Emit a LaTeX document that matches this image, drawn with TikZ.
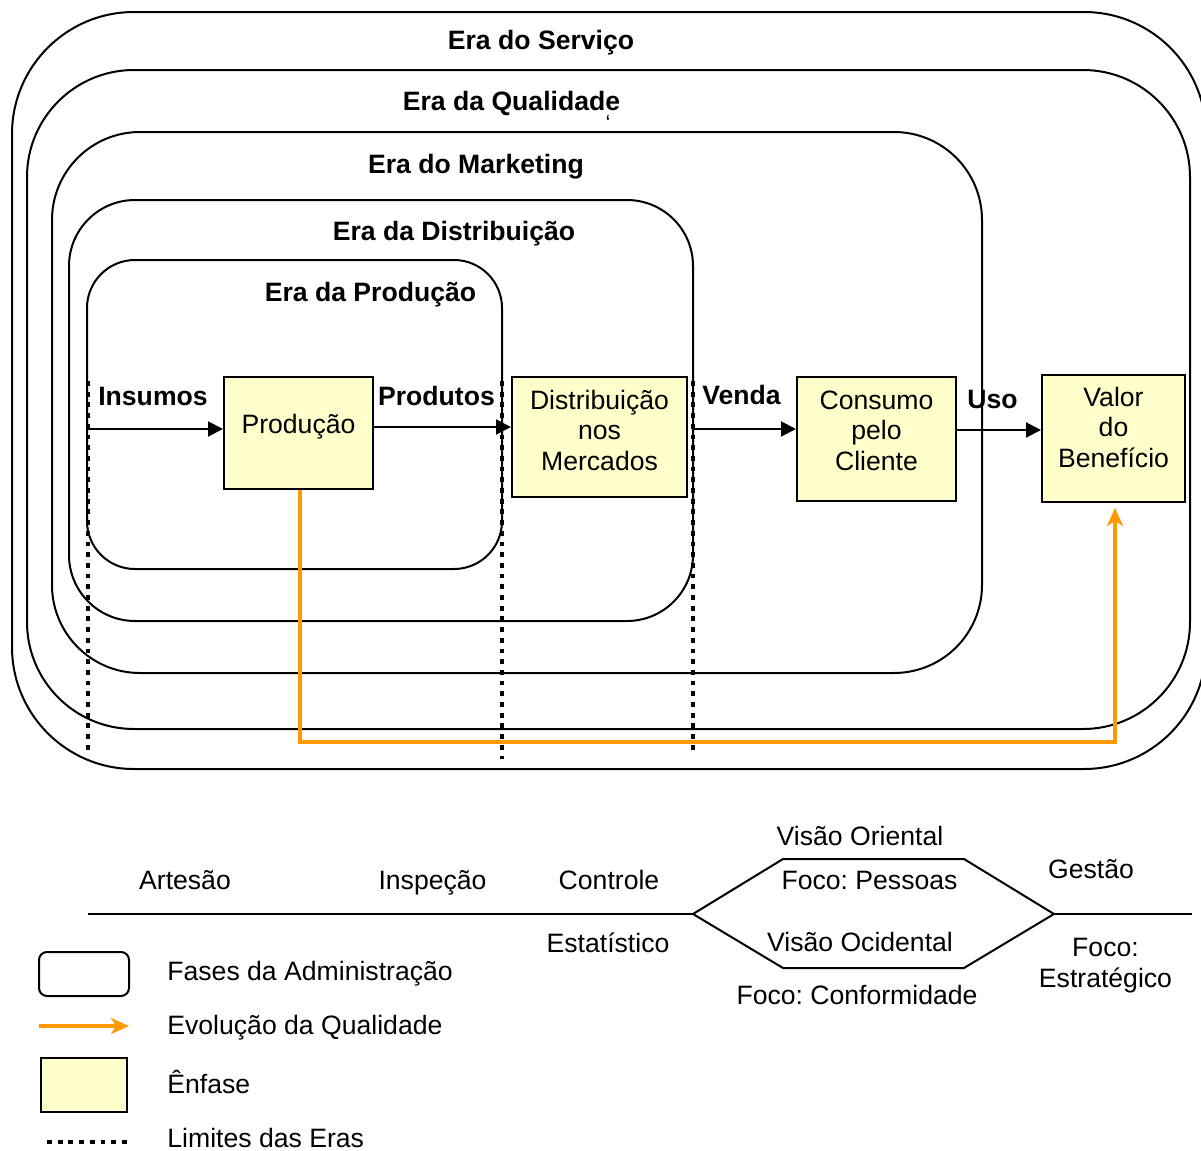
\documentclass[tikz,border=0pt]{standalone}
\usepackage{fontspec}
\setmainfont{Liberation Sans}
\usetikzlibrary{arrows.meta}
\definecolor{qualorange}{HTML}{FF9900}
\definecolor{enfase}{HTML}{FFFFCC}
\frenchspacing

\begin{document}
\begin{tikzpicture}[x=0.5pt,y=-0.5pt,
  txt/.style={font=\fontsize{13.3}{15.25}\selectfont, inner sep=0pt, anchor=base, align=center},
  bold/.style={txt, font=\fontsize{13.3}{15.25}\selectfont\bfseries},
  legtxt/.style={txt, anchor=base west},
  era/.style={draw=black, line width=1pt},
  enf/.style={draw=black, line width=1pt, fill=enfase, inner sep=0pt},
  flow/.style={draw=black, line width=1pt, -{Triangle[length=7.5pt,width=7.5pt]}},
  qual/.style={draw=qualorange, line width=2pt, -{Stealth[length=9pt,width=8pt,inset=2.5pt]}},
  limite/.style={draw=black, line width=2.4pt, dash pattern=on 2.4pt off 2.95pt},
  eixo/.style={draw=black, line width=1pt},
]
\useasboundingbox (0,0) rectangle (1201,1151);

% nested eras of administration
\draw[era, rounded corners=61pt]   (12,12)  rectangle (1206,769);
\draw[era, rounded corners=53.5pt] (27,70)  rectangle (1190,729);
\draw[era, rounded corners=44pt]   (52,132) rectangle (982,673);
\draw[era, rounded corners=33pt]   (69,200) rectangle (693,621);
\draw[era, rounded corners=24pt]   (87,260) rectangle (502,569);

\node[bold] (tServ) at (541,49)   {Era do Serviço};
\node[bold] (tQual) at (511.5,110) {Era da Qualidade};
\node[txt, anchor=north, font=\fontsize{11}{11}\selectfont] (tMark) at (608,115) {‘};
\node[bold] (tMkt)  at (476,173)  {Era do Marketing};
\node[bold] (tDist) at (454,240)  {Era da Distribuição};
\node[bold] (tProd) at (370.5,301) {Era da Produção};

% emphasis boxes
\node[enf, minimum width=74.5pt, minimum height=56pt]   (prod)  at (298.5,433)  {};
\node[enf, minimum width=87.5pt, minimum height=60pt]   (dist)  at (599.5,437)  {};
\node[enf, minimum width=79.5pt, minimum height=62pt]   (cons)  at (876.5,439)  {};
\node[enf, minimum width=71.5pt, minimum height=63.5pt] (valor) at (1113.5,438.5) {};

% box texts (multi-line nodes sit on the baseline of their last line)
\node[txt] (prodT)  at (298.5,433)  {Produção};
\node[txt] (distT)  at (599.5,470)  {Distribuição\\nos\\Mercados};
\node[txt] (consT)  at (876.5,470)  {Consumo\\pelo\\Cliente};
\node[txt] (valorT) at (1113.5,467) {Valor\\do\\Benefício};

% flow labels
\node[bold] (lIns)   at (153,405)   {Insumos};
\node[bold] (lProd)  at (436.5,405) {Produtos};
\node[bold] (lVenda) at (741.5,404) {Venda};
\node[bold] (lUso)   at (992.5,408) {Uso};

% flow arrows
\coordinate (insA)   at (88,429);
\coordinate (prodA)  at (373,427);
\coordinate (vendaA) at (693,429);
\coordinate (usoA)   at (956,430);
\draw[flow] (insA) -- (insA -| prod.west);
\draw[flow] (prod.east |- prodA) -- (dist.west |- prodA);
\draw[flow] (vendaA) -- (vendaA -| cons.west);
\draw[flow] (cons.east |- usoA) -- (valor.west |- usoA);

% era limits
\draw[limite] (88,381)  -- (88,750);
\draw[limite] (502,381) -- (502,759);
\draw[limite] (693,381) -- (693,752);

% quality evolution
\coordinate (q1) at (300,742);
\coordinate (q2) at (1115,742);
\coordinate (qend) at ([yshift=-2.5pt]valor.south);
\draw[qual] (prod.south -| q1) -- (q1) -- (q2) -- (qend -| q2);

% quality timeline
\coordinate (hexL)  at (693,914);
\coordinate (hexTL) at (783,859);
\coordinate (hexTR) at (964,859);
\coordinate (hexR)  at (1054,914);
\coordinate (hexBR) at (964,968);
\coordinate (hexBL) at (783,968);
\draw[eixo] (88,914) -- (hexL);
\draw[eixo] (hexL) -- (hexTL) -- (hexTR) -- (hexR) -- (hexBR) -- (hexBL) -- cycle;
\draw[eixo] (hexR) -- (1192,914);

\node[txt] (tArt)   at (185,889)    {Artesão};
\node[txt] (tInsp)  at (432.5,889)  {Inspeção};
\node[txt] (tCtrl)  at (609,889)    {Controle};
\node[txt] (tEst)   at (608,952)    {Estatístico};
\node[txt] (tVOr)   at (860,845)    {Visão Oriental};
\node[txt] (tPes)   at (869.5,889)  {Foco: Pessoas};
\node[txt] (tVOc)   at (860,951)    {Visão Ocidental};
\node[txt] (tConf)  at (857,1004)   {Foco: Conformidade};
\node[txt] (tGest)  at (1091,878)   {Gestão};
\node[txt] (tFoco)  at (1105.5,987) {Foco:\\Estratégico};

% legend
\draw[era, rounded corners=4pt] (39,952) rectangle (129,996);
\draw[qual] (39,1026) -- (129,1026);
\draw[enf] (41,1058) rectangle (127,1112);
\draw[limite] (47,1142) -- (127,1142);

\node[legtxt] (leg1) at (167,980)  {Fases da Administração};
\node[legtxt] (leg2) at (167,1034) {Evolução da Qualidade};
\node[legtxt] (leg3) at (167,1093) {Ênfase};
\node[legtxt] (leg4) at (167,1147) {Limites das Eras};
\end{tikzpicture}
\end{document}
